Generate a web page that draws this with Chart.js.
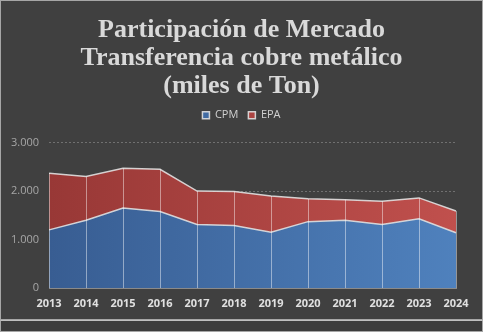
<!DOCTYPE html>
<html>
<head>
<meta charset="utf-8">
<script src="https://cdn.jsdelivr.net/npm/chart.js@4/dist/chart.umd.min.js"></script>
<style>
  html, body { margin:0; padding:0; background:#3f3f3f; }
  #frame { position:absolute; left:0; top:0; width:481px; height:318px; border:1px solid #a6a6a6; background:#404040; }
  #strip { position:absolute; left:0; top:320px; width:481px; height:10px; border:1px solid #a6a6a6; border-top-color:#bfbfbf; background:#3c3c3c; }
  canvas { display:block; }
</style>
</head>
<body>
<div id="frame"><canvas id="c" width="481" height="318"></canvas></div>
<div id="strip"></div>
<script>
const titleLines = ['Participación de Mercado', 'Transferencia cobre metálico', '(miles de Ton)'];
const categories = ['2013','2014','2015','2016','2017','2018','2019','2020','2021','2022','2023','2024'];
const seriesNames = ['CPM', 'EPA'];
const cpmValues = [1200, 1400, 1650, 1580, 1310, 1290, 1150, 1370, 1400, 1310, 1430, 1140];
const epaValues = [1170, 900, 820, 870, 690, 700, 750, 470, 420, 480, 430, 450];
const yTickValues = [0, 1000, 2000, 3000];
const yTickLabels = ['0', '1.000', '2.000', '3.000'];

function grad(left, right, solid) {
  return (ctx) => {
    const chart = ctx.chart;
    const a = chart.chartArea;
    if (!a) return solid;
    const g = chart.ctx.createLinearGradient(a.left, 0, a.right, 0);
    g.addColorStop(0, left);
    g.addColorStop(1, right);
    return g;
  };
}

const dropLines = {
  id: 'dropLines',
  afterDatasetsDraw(chart) {
    const ctx = chart.ctx;
    const n = chart.data.datasets.length;
    const top = chart.getDatasetMeta(n - 1).data;
    const yScale = chart.scales.y;
    const base = yScale.getPixelForValue(0);
    ctx.save();
    ctx.strokeStyle = 'rgba(255,255,255,0.45)';
    ctx.lineWidth = 1;
    top.forEach((pt) => {
      const x = Math.round(pt.x) + 0.5;
      ctx.beginPath();
      ctx.moveTo(x, pt.y);
      ctx.lineTo(x, base);
      ctx.stroke();
    });
    ctx.restore();
  }
};

// extra space below the legend
const legendGap = {
  id: 'legendGap',
  beforeInit(chart) {
    const lg = chart.legend;
    if (!lg) return;
    const orig = lg.fit;
    lg.fit = function () { orig.call(this); this.height += 12; };
  }
};

new Chart(document.getElementById('c'), {
  type: 'line',
  data: {
    labels: categories,
    datasets: [
      {
        label: seriesNames[0],
        data: cpmValues,
        fill: 'origin',
        backgroundColor: grad('#385d92', '#4f81bd', '#4f81bd'),
        borderColor: 'rgba(225,225,225,0.9)',
        borderWidth: 1.5,
        pointRadius: 0,
        tension: 0
      },
      {
        label: seriesNames[1],
        data: epaValues,
        fill: '-1',
        backgroundColor: grad('#983836', '#c0504d', '#c0504d'),
        borderColor: 'rgba(225,225,225,0.9)',
        borderWidth: 1.5,
        pointRadius: 0,
        tension: 0
      }
    ]
  },
  options: {
    responsive: false,
    animation: false,
    layout: { padding: { left: 0, right: 0, top: 10, bottom: 0 } },
    plugins: {
      title: {
        display: true,
        text: titleLines,
        color: '#d9d9d9',
        font: { family: 'Liberation Serif', size: 26, weight: 'bold', lineHeight: 1.06 },
        padding: { top: 6, bottom: 0 }
      },
      legend: {
        display: true,
        position: 'top',
        labels: {
          color: '#d0d0d0',
          font: { family: 'Open Sans', size: 11 },
          boxWidth: 7,
          boxHeight: 7,
          padding: 10
        }
      },
      tooltip: { enabled: false }
    },
    scales: {
      x: {
        offset: false,
        afterFit: (scale) => { scale.paddingRight = 26; },
        grid: { display: false, drawTicks: false },
        border: { display: true, color: '#8a8a8a', width: 1 },
        ticks: {
          color: '#e0e0e0',
          font: { family: 'Open Sans', size: 11, weight: 'bold', lineHeight: 1 },
          padding: 10,
          maxRotation: 0,
          autoSkip: false
        }
      },
      y: {
        stacked: true,
        min: 0,
        max: 3000,
        afterBuildTicks: (axis) => { axis.ticks = yTickValues.map(v => ({ value: v })); },
        grid: { color: '#707070', drawTicks: false },
        border: { display: false, dash: [2, 2] },
        ticks: {
          color: '#a6a6a6',
          font: { family: 'Open Sans', size: 11 },
          padding: 10,
          callback: (v) => yTickLabels[yTickValues.indexOf(v)]
        }
      }
    }
  },
  plugins: [dropLines, legendGap]
});
</script>
</body>
</html>
